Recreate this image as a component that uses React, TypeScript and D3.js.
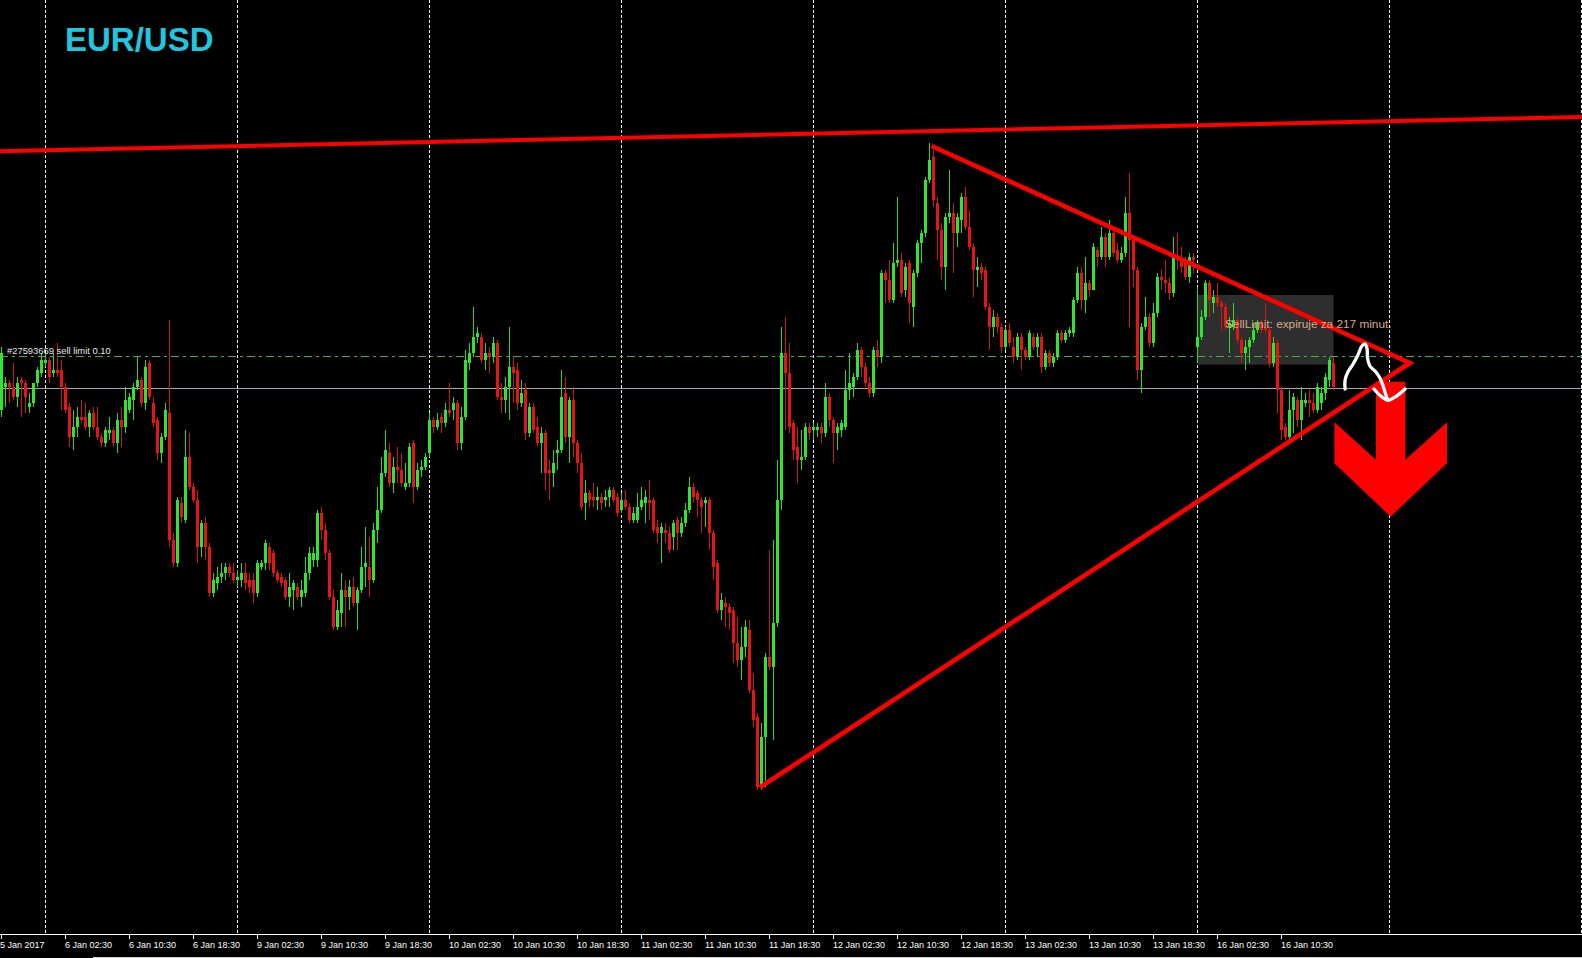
import React, { useEffect } from "react";
import * as d3 from "d3";

// EUR/USD M30 candles, prices in pips (price x 10000)
const opens = [
  10594,10601,10602,10601,10598,10603,10602,10595,10596,10602,
  10605,10608,10609,10605,10606,10606,10601,10595,10586,10589,
  10592,10592,10589,10593,10589,10586,10584,10587,10588,10584,
  10591,10589,10594,10597,10601,10603,10596,10608,10596,10591,
  10581,10586,10593,10555,10548,10566,10561,10580,10571,10567,
  10553,10560,10553,10539,10542,10544,10545,10547,10545,10543,
  10543,10545,10543,10543,10539,10547,10548,10553,10551,10545,
  10544,10543,10538,10540,10541,10538,10539,10545,10549,10549,
  10563,10558,10551,10538,10529,10533,10540,10538,10541,10536,
  10540,10547,10547,10543,10558,10564,10575,10581,10572,10577,
  10576,10571,10572,10584,10571,10576,10577,10581,10591,10589,
  10592,10590,10594,10594,10596,10584,10592,10608,10611,10616,
  10616,10609,10611,10610,10614,10598,10597,10601,10607,10606,
  10596,10600,10587,10595,10589,10584,10587,10576,10575,10581,
  10582,10599,10586,10597,10584,10578,10566,10569,10568,10567,
  10568,10567,10568,10570,10568,10564,10567,10565,10561,10561,
  10565,10566,10567,10567,10559,10557,10558,10557,10556,10561,
  10557,10560,10564,10571,10569,10567,10566,10567,10557,10548,
  10534,10536,10535,10534,10524,10519,10523,10528,10510,10502,
  10481,10496,10520,10517,10530,10567,10611,10605,10590,10583,
  10579,10580,10589,10588,10588,10589,10587,10598,10591,10587,
  10588,10589,10600,10601,10604,10612,10607,10602,10599,10612,
  10610,10635,10633,10627,10638,10639,10630,10638,10625,10635,
  10644,10647,10663,10670,10656,10648,10637,10652,10653,10647,
  10651,10658,10649,10643,10636,10637,10636,10625,10619,10622,
  10619,10613,10618,10613,10610,10616,10612,10610,10616,10613,
  10616,10607,10611,10608,10610,10617,10615,10617,10617,10627,
  10635,10627,10632,10630,10642,10640,10646,10640,10647,10642,
  10639,10641,10653,10645,10636,10606,10619,10622,10614,10623,
  10634,10633,10632,10629,10640,10639,10638,10634,10640,10613,
  10616,10622,10632,10626,10628,10626,10625,10619,10619,10621,
  10615,10611,10613,10615,10618,10620,10619,10618,10608,10614,
  10600,10589,10586,10594,10597,10591,10596,10597,10596,10594,
  10596,10599,10603,10608,
];
const highs = [
  10613,10604,10603,10608,10604,10604,10603,10599,10602,10607,
  10611,10611,10610,10611,10614,10609,10602,10596,10594,10595,
  10597,10596,10594,10595,10595,10587,10589,10592,10589,10593,
  10595,10601,10599,10602,10610,10604,10609,10609,10598,10592,
  10587,10596,10621,10557,10568,10568,10588,10587,10572,10570,
  10561,10562,10554,10545,10547,10548,10548,10548,10548,10546,
  10548,10548,10545,10545,10549,10549,10555,10554,10552,10546,
  10545,10544,10545,10543,10542,10543,10550,10553,10553,10564,
  10565,10560,10552,10540,10537,10545,10543,10543,10544,10541,
  10553,10559,10556,10560,10571,10580,10588,10584,10580,10583,
  10581,10578,10584,10585,10578,10579,10581,10593,10592,10593,
  10593,10596,10602,10598,10597,10595,10612,10614,10625,10619,
  10617,10614,10613,10616,10615,10602,10604,10619,10610,10608,
  10603,10602,10596,10596,10592,10589,10588,10579,10582,10585,
  10606,10604,10598,10601,10585,10581,10573,10570,10572,10571,
  10569,10570,10571,10571,10569,10569,10570,10566,10565,10569,
  10571,10570,10573,10568,10561,10560,10560,10559,10561,10562,
  10562,10566,10574,10572,10570,10568,10568,10568,10558,10549,
  10539,10538,10536,10535,10532,10529,10531,10531,10515,10503,
  10500,10521,10552,10555,10579,10619,10622,10614,10591,10589,
  10588,10590,10590,10590,10590,10590,10602,10599,10592,10590,
  10591,10606,10611,10605,10614,10613,10608,10604,10613,10615,
  10636,10636,10639,10644,10658,10641,10638,10639,10636,10645,
  10648,10664,10674,10672,10658,10650,10653,10666,10656,10653,
  10659,10661,10654,10644,10640,10638,10637,10626,10624,10623,
  10620,10619,10620,10616,10617,10617,10613,10618,10617,10617,
  10617,10612,10612,10611,10618,10618,10618,10619,10628,10637,
  10637,10640,10633,10644,10643,10649,10647,10651,10648,10644,
  10643,10658,10665,10646,10637,10620,10628,10623,10626,10635,
  10636,10639,10634,10646,10647,10643,10640,10641,10641,10631,
  10624,10633,10633,10630,10632,10627,10626,10622,10626,10622,
  10616,10615,10616,10620,10621,10621,10626,10619,10616,10615,
  10601,10590,10600,10599,10598,10601,10599,10600,10599,10602,
  10601,10605,10610,10610,
];
const lows = [
  10592,10595,10596,10597,10595,10592,10593,10593,10595,10601,
  10604,10607,10602,10604,10604,10594,10593,10583,10582,10586,
  10590,10588,10586,10588,10585,10583,10583,10585,10583,10581,
  10583,10587,10593,10591,10600,10595,10594,10597,10589,10579,
  10578,10585,10553,10547,10547,10560,10560,10570,10566,10548,
  10550,10549,10538,10538,10540,10542,10543,10544,10542,10541,
  10541,10540,10539,10536,10538,10546,10546,10546,10544,10542,
  10541,10537,10535,10534,10537,10535,10538,10543,10547,10547,
  10555,10549,10537,10528,10528,10529,10529,10534,10535,10528,
  10539,10541,10538,10542,10554,10563,10574,10571,10569,10572,
  10571,10570,10571,10566,10570,10574,10576,10580,10587,10588,
  10587,10589,10592,10591,10582,10582,10591,10606,10610,10614,
  10608,10606,10605,10608,10597,10593,10593,10591,10596,10594,
  10595,10585,10586,10587,10583,10575,10570,10567,10571,10576,
  10581,10584,10578,10580,10575,10564,10561,10565,10565,10564,
  10564,10565,10565,10566,10562,10563,10564,10560,10560,10560,
  10564,10560,10561,10557,10554,10548,10554,10551,10552,10552,
  10556,10559,10563,10566,10562,10557,10559,10552,10543,10533,
  10531,10529,10528,10518,10517,10513,10520,10509,10499,10480,
  10480,10481,10516,10495,10529,10564,10588,10587,10579,10572,
  10576,10579,10585,10585,10586,10584,10586,10589,10578,10582,
  10586,10588,10597,10598,10603,10604,10601,10598,10598,10607,
  10608,10626,10626,10626,10637,10628,10628,10620,10619,10634,
  10638,10646,10662,10655,10639,10633,10630,10650,10635,10643,
  10647,10648,10642,10628,10631,10633,10624,10612,10616,10617,
  10611,10612,10613,10608,10609,10606,10609,10609,10612,10610,
  10605,10606,10607,10607,10609,10614,10614,10616,10616,10626,
  10624,10623,10628,10630,10637,10639,10637,10639,10640,10638,
  10638,10640,10619,10631,10603,10599,10618,10613,10613,10622,
  10630,10629,10627,10628,10636,10635,10633,10632,10635,10608,
  10615,10621,10622,10623,10625,10618,10618,10611,10618,10614,
  10608,10606,10608,10614,10617,10617,10617,10607,10607,10593,
  10585,10585,10585,10587,10589,10585,10595,10592,10593,10593,
  10594,10597,10601,10600,
];
const closes = [
  10611,10602,10601,10598,10602,10602,10598,10596,10602,10606,
  10609,10609,10604,10606,10605,10601,10594,10586,10589,10592,
  10591,10589,10593,10589,10586,10584,10588,10588,10584,10591,
  10589,10597,10598,10601,10603,10596,10607,10598,10590,10581,
  10586,10594,10555,10548,10567,10562,10580,10571,10567,10553,
  10560,10553,10539,10543,10544,10545,10547,10545,10543,10544,
  10545,10542,10541,10539,10548,10548,10554,10548,10545,10543,
  10542,10538,10541,10542,10538,10540,10545,10551,10551,10563,
  10558,10551,10538,10529,10534,10540,10538,10541,10536,10540,
  10547,10548,10543,10558,10564,10575,10582,10572,10577,10576,
  10572,10572,10583,10571,10576,10577,10580,10591,10589,10591,
  10590,10594,10593,10596,10584,10592,10609,10611,10616,10617,
  10609,10611,10610,10614,10598,10597,10601,10607,10605,10596,
  10599,10587,10595,10588,10584,10587,10575,10575,10578,10582,
  10598,10586,10597,10584,10578,10565,10569,10567,10567,10568,
  10566,10568,10570,10567,10563,10567,10565,10561,10563,10565,
  10567,10568,10566,10558,10557,10559,10557,10552,10560,10557,
  10560,10564,10571,10568,10567,10565,10567,10557,10547,10534,
  10537,10535,10533,10524,10519,10523,10529,10510,10501,10481,
  10496,10520,10517,10530,10567,10611,10605,10589,10582,10579,
  10580,10589,10587,10589,10589,10587,10598,10591,10587,10589,
  10590,10600,10602,10604,10612,10607,10602,10599,10612,10610,
  10635,10633,10627,10638,10639,10629,10637,10626,10635,10644,
  10647,10663,10669,10657,10648,10637,10652,10653,10647,10652,
  10658,10649,10643,10636,10637,10635,10625,10619,10622,10619,
  10613,10618,10614,10610,10616,10612,10610,10617,10613,10616,
  10607,10611,10608,10610,10617,10615,10617,10618,10627,10635,
  10627,10632,10630,10643,10640,10646,10640,10647,10641,10639,
  10641,10653,10645,10636,10606,10619,10622,10614,10623,10634,
  10633,10632,10629,10640,10639,10637,10634,10640,10639,10616,
  10622,10632,10627,10628,10626,10625,10619,10620,10621,10615,
  10611,10613,10615,10618,10620,10618,10618,10608,10614,10600,
  10588,10586,10594,10598,10591,10597,10597,10596,10594,10601,
  10599,10604,10609,10601,
];

const tickLabels = [
  "5 Jan 2017", "6 Jan 02:30", "6 Jan 10:30", "6 Jan 18:30", "9 Jan 02:30",
  "9 Jan 10:30", "9 Jan 18:30", "10 Jan 02:30", "10 Jan 10:30", "10 Jan 18:30",
  "11 Jan 02:30", "11 Jan 10:30", "11 Jan 18:30", "12 Jan 02:30", "12 Jan 10:30",
  "12 Jan 18:30", "13 Jan 02:30", "13 Jan 10:30", "13 Jan 18:30", "16 Jan 02:30",
  "16 Jan 10:30",
];

const symbolName = "EUR/USD";
const bidPrice = 10600.5;
const sellLimitPrice = 10610;
const orderLabel = "#27593669 sell limit 0.10";
const expiryLabel = "SellLimit: expiruje za 217 minut.";
const expiryBox = { barFrom: 299, barTo: 333, priceTop: 10628.5, priceBottom: 10607.6 };

// chart objects anchored in (bar index, pips)
const resistanceLine = [ { bar: 0, price: 10671.6 }, { bar: 395, price: 10681.9 } ];
const triangleLine = [
  { bar: 232.5, price: 10673.2 },
  { bar: 352.1, price: 10608.1 },
  { bar: 189.6, price: 10480.8 },
];
const arrowTip = { bar: 347.3, price: 10562 };
const squiggle = [
  { bar: 335.9, price: 10600.3 }, { bar: 335.9, price: 10603.0 }, { bar: 336.6, price: 10605.4 },
  { bar: 337.9, price: 10607.8 }, { bar: 339.1, price: 10610.5 }, { bar: 340.1, price: 10613.2 },
  { bar: 340.9, price: 10613.8 }, { bar: 341.4, price: 10612.3 }, { bar: 341.5, price: 10609.6 },
  { bar: 342.1, price: 10607.2 }, { bar: 343.6, price: 10605.4 }, { bar: 344.6, price: 10603.6 },
  { bar: 345.4, price: 10601.2 }, { bar: 346.1, price: 10598.5 }, { bar: 346.6, price: 10597.0 },
];
const squiggleHead = [
  { bar: 343.1, price: 10600.3 }, { bar: 345.0, price: 10598.0 }, { bar: 346.6, price: 10596.9 },
  { bar: 348.8, price: 10598.2 }, { bar: 350.9, price: 10600.3 },
];

const W = 1582;
const H = 958;
const AXIS_Y = 934.5;
const STEP = 4;
const BODY = 3;
const GREEN = "#2ee62e";
const GREEN_WICK = "#2cd82c";
const RED = "#e81414";
const RED_WICK = "#c81818";

function makeBarTimes(n: number): Date[] {
  const out: Date[] = [];
  let t = new Date(2017, 0, 5, 18, 30);
  while (out.length < n) {
    const d = t.getDay();
    if (d !== 0 && d !== 6) out.push(new Date(t.getTime()));
    t = new Date(t.getTime() + 30 * 60000);
  }
  return out;
}

export default function App() {
  useEffect(() => {
    document.body.style.margin = "0";
    document.body.style.background = "#000";
  }, []);

  const N = opens.length;
  const times = makeBarTimes(400);
  const fmt = d3.timeFormat("%-d %b %H:%M");

  const x = d3.scaleLinear().domain([0, 1]).range([0, STEP]);
  const cx = (b: number) => x(b) + BODY / 2;
  const y = d3.scaleLinear().domain([10437, 10717]).range([933.33, 0]);

  const ticks = tickLabels.map((lab, k) => {
    const idx = k === 0 ? 0 : times.findIndex((t) => fmt(t) === lab);
    return { lab, idx };
  });
  const gridBars = times
    .map((t, i) => ({ t, i }))
    .filter(({ t }) => t.getHours() === 0 && t.getMinutes() === 0)
    .map(({ i }) => i);

  const lineGen = d3
    .line<{ bar: number; price: number }>()
    .x((d) => cx(d.bar))
    .y((d) => y(d.price));
  const curveGen = d3
    .line<{ bar: number; price: number }>()
    .x((d) => cx(d.bar))
    .y((d) => y(d.price))
    .curve(d3.curveCatmullRom);

  // resistance ray extended across the window
  const rs = d3
    .scaleLinear()
    .domain([cx(resistanceLine[0].bar), cx(resistanceLine[1].bar)])
    .range([y(resistanceLine[0].price), y(resistanceLine[1].price)]);

  const tipX = cx(arrowTip.bar);
  const tipY = y(arrowTip.price);
  const arrowShape: [number, number][] = [
    [-14.7, -135], [14.7, -135], [14.7, -57], [56.3, -94.3], [56.3, -53.4],
    [0, 0], [-56.3, -53.4], [-56.3, -94.3], [-14.7, -57],
  ];
  const arrowPts = arrowShape.map(([dx, dy]) => `${tipX + dx},${tipY + dy}`).join(" ");

  const sellY = Math.floor(y(sellLimitPrice)) + 0.5;
  const bidY = Math.floor(y(bidPrice)) + 0.5;

  const boxX = cx(expiryBox.barFrom) - 0.5;
  const boxR = cx(expiryBox.barTo);
  const boxT = y(expiryBox.priceTop);
  const boxB = y(expiryBox.priceBottom);

  return (
    <svg
      width={W}
      height={H}
      style={{ position: "fixed", left: 0, top: 0, display: "block", background: "#000" }}
    >
      <rect x={0} y={0} width={W} height={H} fill="#000" />

      {/* expiry tooltip box (behind bars) */}
      <rect x={boxX} y={boxT} width={boxR - boxX} height={boxB - boxT} fill="#2e2e2e" />

      {/* vertical day grid */}
      <g shapeRendering="crispEdges">
        {gridBars.map((b) => (
          <line
            key={b}
            x1={Math.floor(cx(b)) + 0.5}
            x2={Math.floor(cx(b)) + 0.5}
            y1={0}
            y2={AXIS_Y - 1}
            stroke="#ffffff"
            strokeWidth={1}
            strokeDasharray="3,2"
          />
        ))}
      </g>

      {/* order & bid lines */}
      <g shapeRendering="crispEdges">
        <line x1={0} x2={W} y1={sellY} y2={sellY} stroke="#3cb43c" strokeWidth={1} strokeDasharray="8,4,3,4" />
        <line x1={0} x2={W} y1={bidY} y2={bidY} stroke="#a6a6b4" strokeWidth={1} />
      </g>

      {/* candles */}
      <g shapeRendering="crispEdges">
        {opens.slice(0, N).map((o, i) => {
          const c = closes[i];
          const up = c >= o;
          const hi = Math.max(highs[i], o, c);
          const lo = Math.min(lows[i], o, c);
          const top = y(Math.max(o, c));
          const bot = y(Math.min(o, c));
          const wx = Math.floor(cx(i)) + 0.5;
          return (
            <g key={i}>
              <line x1={wx} x2={wx} y1={y(hi)} y2={y(lo)} stroke={up ? GREEN_WICK : RED_WICK} strokeWidth={1} />
              <rect x={x(i)} y={top} width={BODY} height={Math.max(1, bot - top)} fill={up ? GREEN : RED} />
            </g>
          );
        })}
      </g>

      {/* trend lines */}
      <line x1={0} x2={W} y1={rs(0)} y2={rs(W)} stroke="#ff0000" strokeWidth={4} />
      <path d={lineGen(triangleLine) || ""} fill="none" stroke="#ff0000" strokeWidth={4.6} strokeLinejoin="miter" />

      {/* expiry text */}
      <text
        x={boxX + 28}
        y={boxT + 33.3}
        fill="#d6ab88"
        fontFamily="'Liberation Sans', Arial, sans-serif"
        fontSize={11.8}
      >
        {expiryLabel}
      </text>

      {/* down arrow */}
      <polygon points={arrowPts} fill="#ff0000" />

      {/* hand-drawn squiggle */}
      <path d={curveGen(squiggle) || ""} fill="none" stroke="#ffffff" strokeWidth={3.3} strokeLinecap="round" strokeLinejoin="round" />
      <path d={curveGen(squiggleHead) || ""} fill="none" stroke="#ffffff" strokeWidth={3.3} strokeLinecap="round" strokeLinejoin="round" />

      {/* labels */}
      <text
        x={7}
        y={sellY - 2.8}
        fill="#e6e6e6"
        fontFamily="'Liberation Sans', Arial, sans-serif"
        fontSize={9.4}
      >
        {orderLabel}
      </text>
      <text
        x={65}
        y={51}
        fill="#1fc6de"
        fontFamily="'Liberation Sans', Arial, sans-serif"
        fontWeight="bold"
        fontSize={33}
      >
        {symbolName}
      </text>

      {/* time axis */}
      <g shapeRendering="crispEdges">
        <line x1={0} x2={W} y1={AXIS_Y} y2={AXIS_Y} stroke="#ffffff" strokeWidth={1} />
        <line x1={93} x2={W} y1={957.5} y2={957.5} stroke="#d0d0d0" strokeWidth={1} />
        {ticks.map(({ lab, idx }) => {
          const tx = Math.floor(cx(idx)) + 0.5;
          return (
            <g key={lab}>
              <line x1={tx} x2={tx} y1={AXIS_Y} y2={AXIS_Y + 4} stroke="#ffffff" strokeWidth={1} />
            </g>
          );
        })}
      </g>
      {ticks.map(({ lab, idx }) => (
        <text
          key={"t" + lab}
          x={idx === 0 ? 0 : Math.floor(cx(idx))}
          y={947.5}
          fill="#ffffff"
          fontFamily="'Liberation Sans', Arial, sans-serif"
          fontSize={9}
        >
          {lab}
        </text>
      ))}
    </svg>
  );
}
